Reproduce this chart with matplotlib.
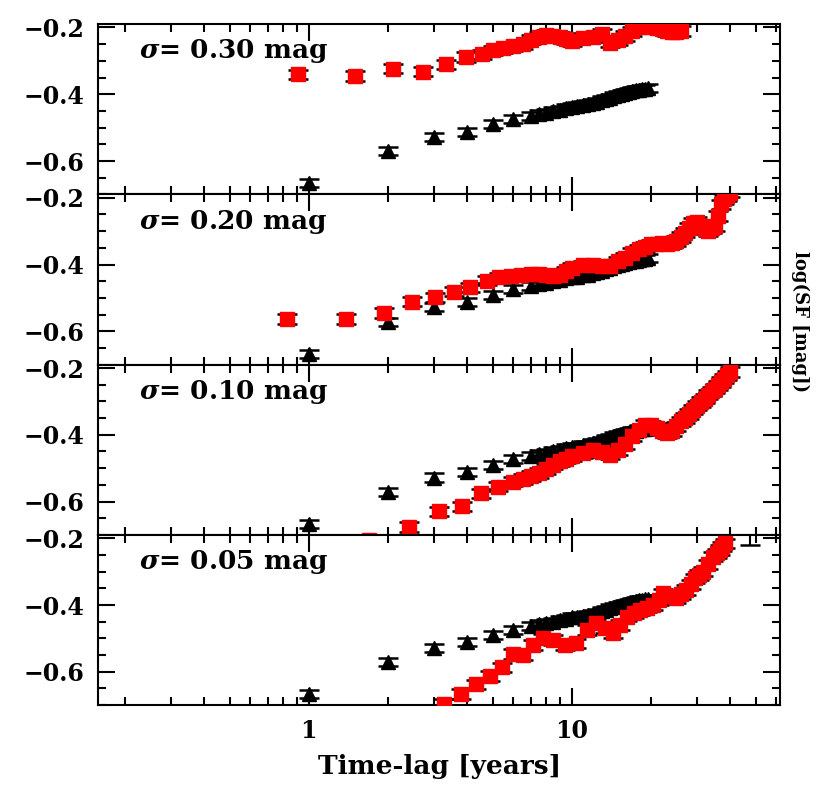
import numpy as np
import matplotlib
matplotlib.use('Agg')
import matplotlib.pyplot as plt
from matplotlib.ticker import MultipleLocator, FuncFormatter, NullFormatter

plt.rcParams['font.family'] = 'DejaVu Serif'
plt.rcParams['font.weight'] = 'bold'
plt.rcParams['mathtext.fontset'] = 'dejavuserif'

# observed structure function (black triangles), same in every panel
obs_x = [1, 2, 3, 4, 5, 6, 7, 7.5, 8, 8.5, 9, 9.5, 10, 10.5, 11, 11.5, 12, 12.5,
         13, 13.5, 14, 14.5, 15, 15.5, 16, 16.5, 17, 17.5, 18, 18.5, 19, 19.5]
obs_y = [-0.667, -0.571, -0.528, -0.512, -0.490, -0.474, -0.464, -0.458, -0.455,
         -0.450, -0.446, -0.441, -0.437, -0.436, -0.432, -0.430, -0.426, -0.423,
         -0.418, -0.414, -0.410, -0.405, -0.402, -0.399, -0.396, -0.393, -0.390,
         -0.388, -0.386, -0.384, -0.383, -0.381]

# stray point near the top right of the lowest panel
extra_x = [47.5]
extra_y = [-0.16]

sigmas = ['0.30', '0.20', '0.10', '0.05']

sim30_x = [0.91, 1.5, 2.1, 2.72, 3.33, 3.96, 4.55, 5.0, 5.5, 6.0, 6.5, 7.0, 7.5,
           8.0, 8.5, 9.0, 9.5, 10, 11, 12, 13, 14, 15, 16, 17, 18, 19, 20, 21,
           22, 23, 24, 25, 26]
sim30_y = [-0.340, -0.345, -0.323, -0.332, -0.310, -0.288, -0.280, -0.268, -0.262,
           -0.256, -0.250, -0.236, -0.228, -0.223, -0.225, -0.229, -0.235, -0.240,
           -0.232, -0.228, -0.220, -0.245, -0.238, -0.225, -0.212, -0.198, -0.195,
           -0.200, -0.203, -0.206, -0.210, -0.214, -0.215, -0.210]

sim20_x = [0.83, 1.38, 1.93, 2.47, 3.01, 3.57, 4.11, 4.76, 5.3, 5.9, 6.4, 7.0, 7.5,
           8.0, 8.5, 9.0, 9.5, 10, 11, 12, 13, 14, 15, 16, 17, 18, 19, 20, 21, 22,
           23, 24, 25, 26, 27, 28, 29, 30, 31, 32, 33, 34, 35, 36, 37, 38, 39, 40]
sim20_y = [-0.563, -0.563, -0.545, -0.511, -0.498, -0.481, -0.468, -0.448, -0.438,
           -0.433, -0.432, -0.428, -0.428, -0.432, -0.434, -0.430, -0.420, -0.410,
           -0.402, -0.400, -0.404, -0.403, -0.390, -0.380, -0.365, -0.355, -0.348,
           -0.340, -0.338, -0.337, -0.338, -0.336, -0.330, -0.318, -0.305, -0.290,
           -0.275, -0.272, -0.285, -0.295, -0.300, -0.292, -0.285, -0.255, -0.220,
           -0.205, -0.195, -0.185]

sim10_x = [1.7, 2.40, 3.12, 3.82, 4.52, 5.26, 6.0, 6.5, 7.0, 7.5, 8.0, 8.5, 9.0,
           9.5, 10, 11, 12, 13, 14, 15, 16, 17, 18, 19, 20, 21, 22, 23, 24, 25, 26,
           27, 28, 29, 30, 31, 32, 33, 34, 35, 36, 37, 38, 39, 40]
sim10_y = [-0.715, -0.676, -0.629, -0.614, -0.575, -0.555, -0.540, -0.532, -0.523,
           -0.515, -0.503, -0.490, -0.480, -0.472, -0.465, -0.455, -0.447, -0.452,
           -0.460, -0.447, -0.428, -0.405, -0.385, -0.370, -0.372, -0.380, -0.388,
           -0.395, -0.390, -0.375, -0.360, -0.350, -0.338, -0.325, -0.313, -0.302,
           -0.292, -0.280, -0.270, -0.262, -0.252, -0.242, -0.232, -0.222, -0.212]

sim05_x = [3.26, 3.80, 4.33, 4.89, 5.42, 6.0, 6.55, 7.15, 7.8, 8.5, 9.4, 10.4, 11.4,
           12.4, 13.4, 14.4, 15.3, 16.2, 17.2, 18.2, 19.3, 20.4, 21.4, 22.3, 23.6,
           25.0, 26.0, 27.3, 28.3, 29.4, 30.5, 31.6, 33.0, 34.5, 35.5, 36.6, 37.4, 38.2]
sim05_y = [-0.696, -0.666, -0.638, -0.613, -0.587, -0.547, -0.550, -0.520, -0.500,
           -0.505, -0.520, -0.515, -0.475, -0.455, -0.470, -0.485, -0.460, -0.435,
           -0.425, -0.415, -0.408, -0.400, -0.385, -0.365, -0.372, -0.380, -0.368,
           -0.355, -0.338, -0.320, -0.310, -0.300, -0.278, -0.255, -0.245, -0.235,
           -0.225, -0.215]

sims = [(sim30_x, sim30_y), (sim20_x, sim20_y), (sim10_x, sim10_y), (sim05_x, sim05_y)]

fig, axes = plt.subplots(4, 1, figsize=(8.3, 8.05), dpi=100, sharex=True)
fig.subplots_adjust(left=0.118, right=0.94, top=0.970, bottom=0.124, hspace=0)

for i, ax in enumerate(axes):
    sx, sy = sims[i]
    ax.errorbar(obs_x, obs_y, yerr=0.012, fmt='none', ecolor='black',
                elinewidth=1.5, capsize=7, capthick=1.8, zorder=1)
    ax.plot(obs_x, obs_y, linestyle='none', marker='^', color='black',
            markersize=10.5, zorder=2)
    ax.errorbar(sx, sy, yerr=0.014, fmt='none', ecolor='black',
                elinewidth=1.5, capsize=7, capthick=1.8, zorder=1)
    ax.plot(sx, sy, linestyle='none', marker='s', color='#ff0000',
            markeredgecolor='#ff0000', markersize=10.5, zorder=3)
    if i == 3:
        ax.errorbar(extra_x, extra_y, yerr=0.06, fmt='none', ecolor='black',
                    elinewidth=1.5, capsize=7, capthick=1.8, zorder=1)

    ax.text(0.06, 0.84, r'$\sigma$= ' + sigmas[i] + ' mag', transform=ax.transAxes,
            ha='left', va='center', fontsize=19, fontweight='bold')

    ax.set_xscale('log')
    ax.set_xlim(0.158, 62)
    ax.set_ylim(-0.70, -0.19)
    ax.yaxis.set_major_locator(MultipleLocator(0.2))
    ax.yaxis.set_minor_locator(MultipleLocator(0.05))
    ax.tick_params(which='both', direction='in', top=True, right=True,
                   width=1.5, labelsize=17)
    ax.tick_params(which='major', length=12)
    ax.tick_params(which='minor', length=6)
    ax.tick_params(axis='y', pad=10)
    ax.tick_params(axis='x', pad=10)
    for sp in ax.spines.values():
        sp.set_linewidth(1.5)
    for lab in ax.get_yticklabels():
        lab.set_fontweight('bold')

axes[-1].xaxis.set_major_formatter(FuncFormatter(lambda v, p: f'{v:g}'))
axes[-1].xaxis.set_minor_formatter(NullFormatter())
for lab in axes[-1].get_xticklabels():
    lab.set_fontweight('bold')
axes[-1].set_xlabel('Time-lag [years]', fontsize=19, fontweight='bold', labelpad=8)

fig.text(0.964, 0.60, 'log(SF [mag])', rotation=270, ha='center', va='center',
         fontsize=13, fontweight='bold')

plt.savefig('out.png', dpi=100)
